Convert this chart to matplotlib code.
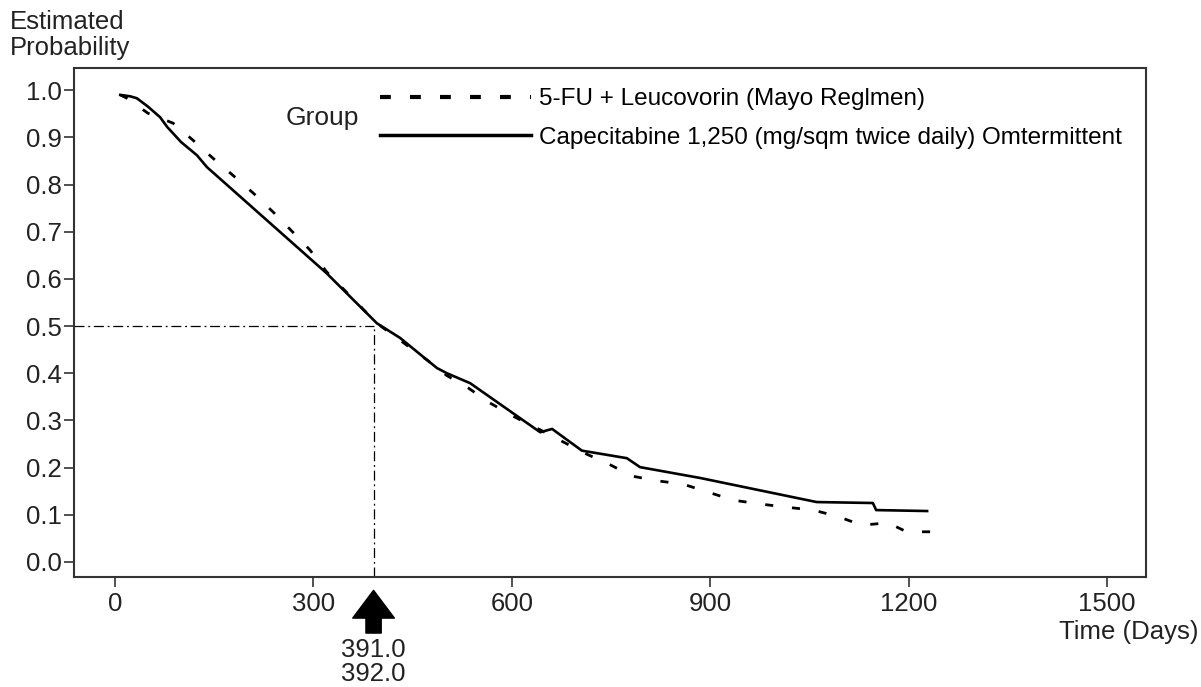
import matplotlib.pyplot as plt
from matplotlib.lines import Line2D

plt.rcParams['font.family'] = ['Liberation Sans', 'DejaVu Sans']

# Capecitabine (solid)
cape_days = [8, 23, 33, 50, 68, 79, 100, 124, 139, 320, 396, 431, 472, 487, 502, 537,
             643, 661, 706, 774, 794, 885, 1061, 1146, 1151, 1228]
cape_prob = [0.99, 0.987, 0.983, 0.965, 0.943, 0.922, 0.89, 0.862, 0.837, 0.612, 0.506, 0.475,
             0.428, 0.411, 0.40, 0.379, 0.275, 0.282, 0.236, 0.22, 0.201, 0.178, 0.127, 0.125,
             0.11, 0.108]

# 5-FU + Leucovorin (dashed)
fu_days = [8, 18, 50, 88, 118, 148, 178, 209, 239, 269, 295, 320, 396, 472, 502, 534, 567,
           602, 643, 673, 711, 746, 782, 820, 859, 897, 935, 975, 1016, 1056, 1094, 1129,
           1169, 1197, 1240]
fu_prob = [0.99, 0.983, 0.951, 0.93, 0.894, 0.856, 0.82, 0.782, 0.742, 0.699, 0.661, 0.615,
           0.506, 0.428, 0.395, 0.369, 0.337, 0.309, 0.28, 0.258, 0.23, 0.208, 0.182, 0.172,
           0.165, 0.148, 0.131, 0.123, 0.116, 0.11, 0.096, 0.078, 0.083, 0.064, 0.064]

x_ticks = [0, 300, 600, 900, 1200, 1500]
y_ticks = [0.0, 0.1, 0.2, 0.3, 0.4, 0.5, 0.6, 0.7, 0.8, 0.9, 1.0]
median_day = 391
median_prob = 0.5
labels = ['5-FU + Leucovorin (Mayo Reglmen)',
          'Capecitabine 1,250 (mg/sqm twice daily) Omtermittent']

fig = plt.figure(figsize=(12.01, 6.87), dpi=100)
ax = fig.add_axes([0.0616, 0.160, 0.8926, 0.741])

dash = (0, (2.9, 6.8))
ax.plot(fu_days, fu_prob, color='black', lw=2, linestyle=dash)
ax.plot(cape_days, cape_prob, color='black', lw=1.9)

# median reference lines
dd = (0, (8, 3, 1.5, 3))
ax.plot([-62, median_day], [median_prob, median_prob], color='black', lw=0.9, linestyle=dd)
ax.plot([median_day, median_day], [-0.032, median_prob], color='black', lw=0.9, linestyle=dd)

ax.set_xlim(-62, 1559)
ax.set_ylim(-0.032, 1.047)
ax.set_xticks(x_ticks)
ax.set_yticks(y_ticks)
ax.set_yticklabels([f'{v:.1f}' for v in y_ticks])
ax.tick_params(labelsize=18.5, length=7, width=1.2, color='#333333', labelcolor='#222222', pad=2)
ax.tick_params(axis='x', pad=4)
for s in ax.spines.values():
    s.set_linewidth(1.5)
    s.set_color('#333333')

# arrow to the median
ax.annotate('', xy=(median_day, -0.026), xycoords=('data', 'axes fraction'),
            xytext=(median_day, -0.11), textcoords=('data', 'axes fraction'),
            arrowprops=dict(facecolor='black', edgecolor='black', width=11,
                            headwidth=30, headlength=20), annotation_clip=False)
ax.text(median_day, -0.12, '391.0\n392.0', transform=ax.get_xaxis_transform(),
        ha='center', va='top', fontsize=18.5, color='#222222', linespacing=1.0)

# legend
handles = [Line2D([], [], color='black', lw=3, linestyle=(0, (2.6, 4.6))),
           Line2D([], [], color='black', lw=2.5)]
ax.legend(handles, labels, loc='upper left', bbox_to_anchor=(0.2854, 0.96),
          frameon=False, fontsize=17.5, handlelength=6.2, handletextpad=0.35,
          labelspacing=0.67, borderpad=0, borderaxespad=0)
ax.text(0.197, 0.902, 'Group', transform=ax.transAxes, fontsize=19, va='center',
        color='#222222')

fig.text(0.008, 0.985, 'Estimated\nProbability', fontsize=18.5, va='top', ha='left',
         color='#222222', linespacing=1.08)
fig.text(0.998, 0.08, 'Time (Days)', fontsize=18.5, ha='right', va='center', color='#222222')

fig.savefig('out.png', dpi=100)
